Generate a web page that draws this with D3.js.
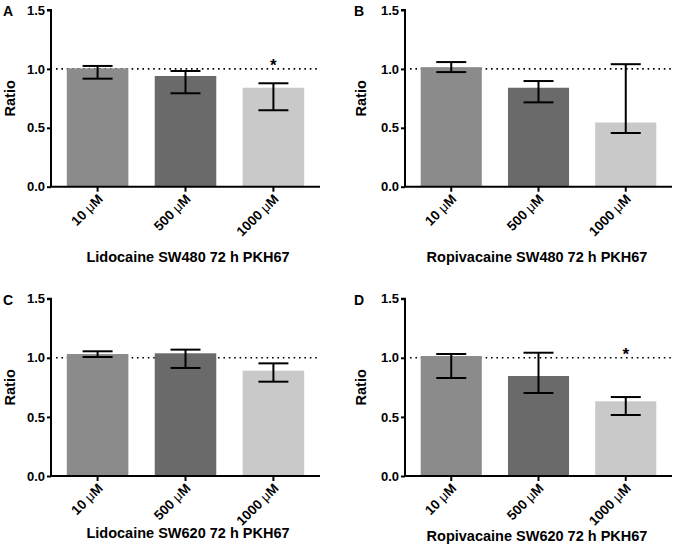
<!DOCTYPE html>
<html>
<head>
<meta charset="utf-8">
<script src="https://cdn.jsdelivr.net/npm/d3@7"></script>
<style>
  html, body { margin: 0; padding: 0; background: #fff; }
  svg { display: block; font-family: "Liberation Sans", Arial, Helvetica, sans-serif; }
</style>
</head>
<body>
<svg id="chart" width="677" height="556"></svg>
<script>
// ---- data ----
const categories = ["10 μM", "500 μM", "1000 μM"];
const panelLetters = ["A", "B", "C", "D"];
const panelTitles = [
  "Lidocaine SW480 72 h PKH67",
  "Ropivacaine SW480 72 h PKH67",
  "Lidocaine SW620 72 h PKH67",
  "Ropivacaine SW620 72 h PKH67"
];
const meanA = [1.005, 0.940, 0.840];
const meanB = [1.015, 0.840, 0.545];
const meanC = [1.032, 1.038, 0.891];
const meanD = [1.015, 0.846, 0.632];
const upperA = [1.025, 0.982, 0.878];
const upperB = [1.058, 0.897, 1.040];
const upperC = [1.055, 1.069, 0.953];
const upperD = [1.032, 1.043, 0.668];
const lowerA = [0.917, 0.793, 0.649];
const lowerB = [0.973, 0.716, 0.456];
const lowerC = [1.007, 0.914, 0.798];
const lowerD = [0.829, 0.702, 0.516];
const starA = [false, false, true];
const starB = [false, false, false];
const starC = [false, false, false];
const starD = [false, false, true];
const yTickValues = [0, 0.5, 1.0, 1.5];
const referenceValue = 1.0;
const barColors = ["#8b8b8b", "#6a6a6a", "#c9c9c9"];

const panels = [
  {letter: panelLetters[0], title: panelTitles[0], mean: meanA, upper: upperA, lower: lowerA, star: starA},
  {letter: panelLetters[1], title: panelTitles[1], mean: meanB, upper: upperB, lower: lowerB, star: starB},
  {letter: panelLetters[2], title: panelTitles[2], mean: meanC, upper: upperC, lower: lowerC, star: starC},
  {letter: panelLetters[3], title: panelTitles[3], mean: meanD, upper: upperD, lower: lowerD, star: starD}
];

// ---- layout ----
const layout = [
  {x0: 51,  x1: 320, yTop: 10,    yBot: 186.7, letterX: 3,   ratioX: 15,  titleX: 188, titleY: 262},
  {x0: 405, x1: 672, yTop: 10,    yBot: 186.7, letterX: 354, ratioX: 366, titleX: 537, titleY: 262},
  {x0: 51,  x1: 320, yTop: 298.7, yBot: 476,   letterX: 3,   ratioX: 15,  titleX: 188, titleY: 538},
  {x0: 405, x1: 672, yTop: 298.7, yBot: 476,   letterX: 354, ratioX: 366, titleX: 537, titleY: 541}
];

const svg = d3.select("#chart");

panels.forEach((p, i) => {
  const L = layout[i];
  const g = svg.append("g");
  const x = d3.scaleBand().domain(categories).range([L.x0, L.x1]).paddingInner(0.3).paddingOuter(0.18);
  const y = d3.scaleLinear().domain([0, 1.5]).range([L.yBot, L.yTop]);

  // reference dotted line (behind bars)
  g.append("line")
    .attr("x1", L.x0 + 5).attr("x2", L.x1)
    .attr("y1", y(referenceValue)).attr("y2", y(referenceValue))
    .attr("stroke", "#000").attr("stroke-width", 1.6)
    .attr("stroke-dasharray", "1.6,3.8");

  // bars
  g.selectAll("rect.bar").data(p.mean).join("rect")
    .attr("class", "bar")
    .attr("x", (d, j) => x(categories[j]))
    .attr("width", x.bandwidth())
    .attr("y", d => y(d))
    .attr("height", d => y(0) - y(d))
    .attr("fill", (d, j) => barColors[j]);

  // error bars
  const capW = 30;
  p.mean.forEach((m, j) => {
    const cx = x(categories[j]) + x.bandwidth() / 2;
    g.append("line").attr("x1", cx).attr("x2", cx)
      .attr("y1", y(p.lower[j])).attr("y2", y(p.upper[j]))
      .attr("stroke", "#000").attr("stroke-width", 2);
    [p.lower[j], p.upper[j]].forEach(v => {
      g.append("line").attr("x1", cx - capW / 2).attr("x2", cx + capW / 2)
        .attr("y1", y(v)).attr("y2", y(v))
        .attr("stroke", "#000").attr("stroke-width", 2);
    });
    if (p.star[j]) {
      g.append("text").attr("x", cx).attr("y", y(referenceValue) + 2)
        .attr("text-anchor", "middle").attr("font-size", 17).attr("font-weight", "bold")
        .text("*");
    }
  });

  // y axis
  const yAxis = d3.axisLeft(y).tickValues(yTickValues).tickFormat(d3.format(".1f")).tickSize(4).tickPadding(2);
  const ya = g.append("g").attr("transform", `translate(${L.x0},0)`).call(yAxis);
  ya.select(".domain").attr("d", `M-4,${L.yTop}H0V${L.yBot}`).attr("stroke", "#000").attr("stroke-width", 2);
  ya.selectAll(".tick line").attr("stroke", "#000").attr("stroke-width", 2);
  ya.selectAll(".tick text").attr("font-size", 13).attr("font-weight", "bold")
    .attr("font-family", "Liberation Sans, Arial, sans-serif").attr("fill", "#000");

  // x axis
  const xAxis = d3.axisBottom(x).tickSize(5).tickFormat("");
  const xa = g.append("g").attr("transform", `translate(0,${L.yBot})`).call(xAxis);
  xa.select(".domain").attr("d", `M${L.x0 - 1},0H${L.x1}`).attr("stroke", "#000").attr("stroke-width", 2);
  xa.selectAll(".tick line").attr("stroke", "#000").attr("stroke-width", 2);

  // rotated category labels
  categories.forEach(c => {
    const cx = x(c) + x.bandwidth() / 2;
    const parts = c.split(" ");
    const t = g.append("text")
      .attr("transform", `translate(${cx + 6},${L.yBot + 13}) rotate(-45)`)
      .attr("text-anchor", "end").attr("font-size", 13.5).attr("font-weight", "bold");
    t.append("tspan").text(parts[0] + " ");
    t.append("tspan").attr("font-weight", "normal").text(parts[1].slice(0, 1));
    t.append("tspan").text(parts[1].slice(1));
  });

  // y label
  g.append("text")
    .attr("transform", `translate(${L.ratioX},${(L.yTop + L.yBot) / 2}) rotate(-90)`)
    .attr("text-anchor", "middle").attr("font-size", 14.5).attr("font-weight", "bold")
    .text("Ratio");

  // title
  g.append("text").attr("x", L.titleX).attr("y", L.titleY)
    .attr("text-anchor", "middle").attr("font-size", 14.5).attr("font-weight", "bold")
    .text(p.title);

  // panel letter
  g.append("text").attr("x", L.letterX).attr("y", L.yTop + 6)
    .attr("font-size", 14).attr("font-weight", "bold").text(p.letter);
});
</script>
</body>
</html>
